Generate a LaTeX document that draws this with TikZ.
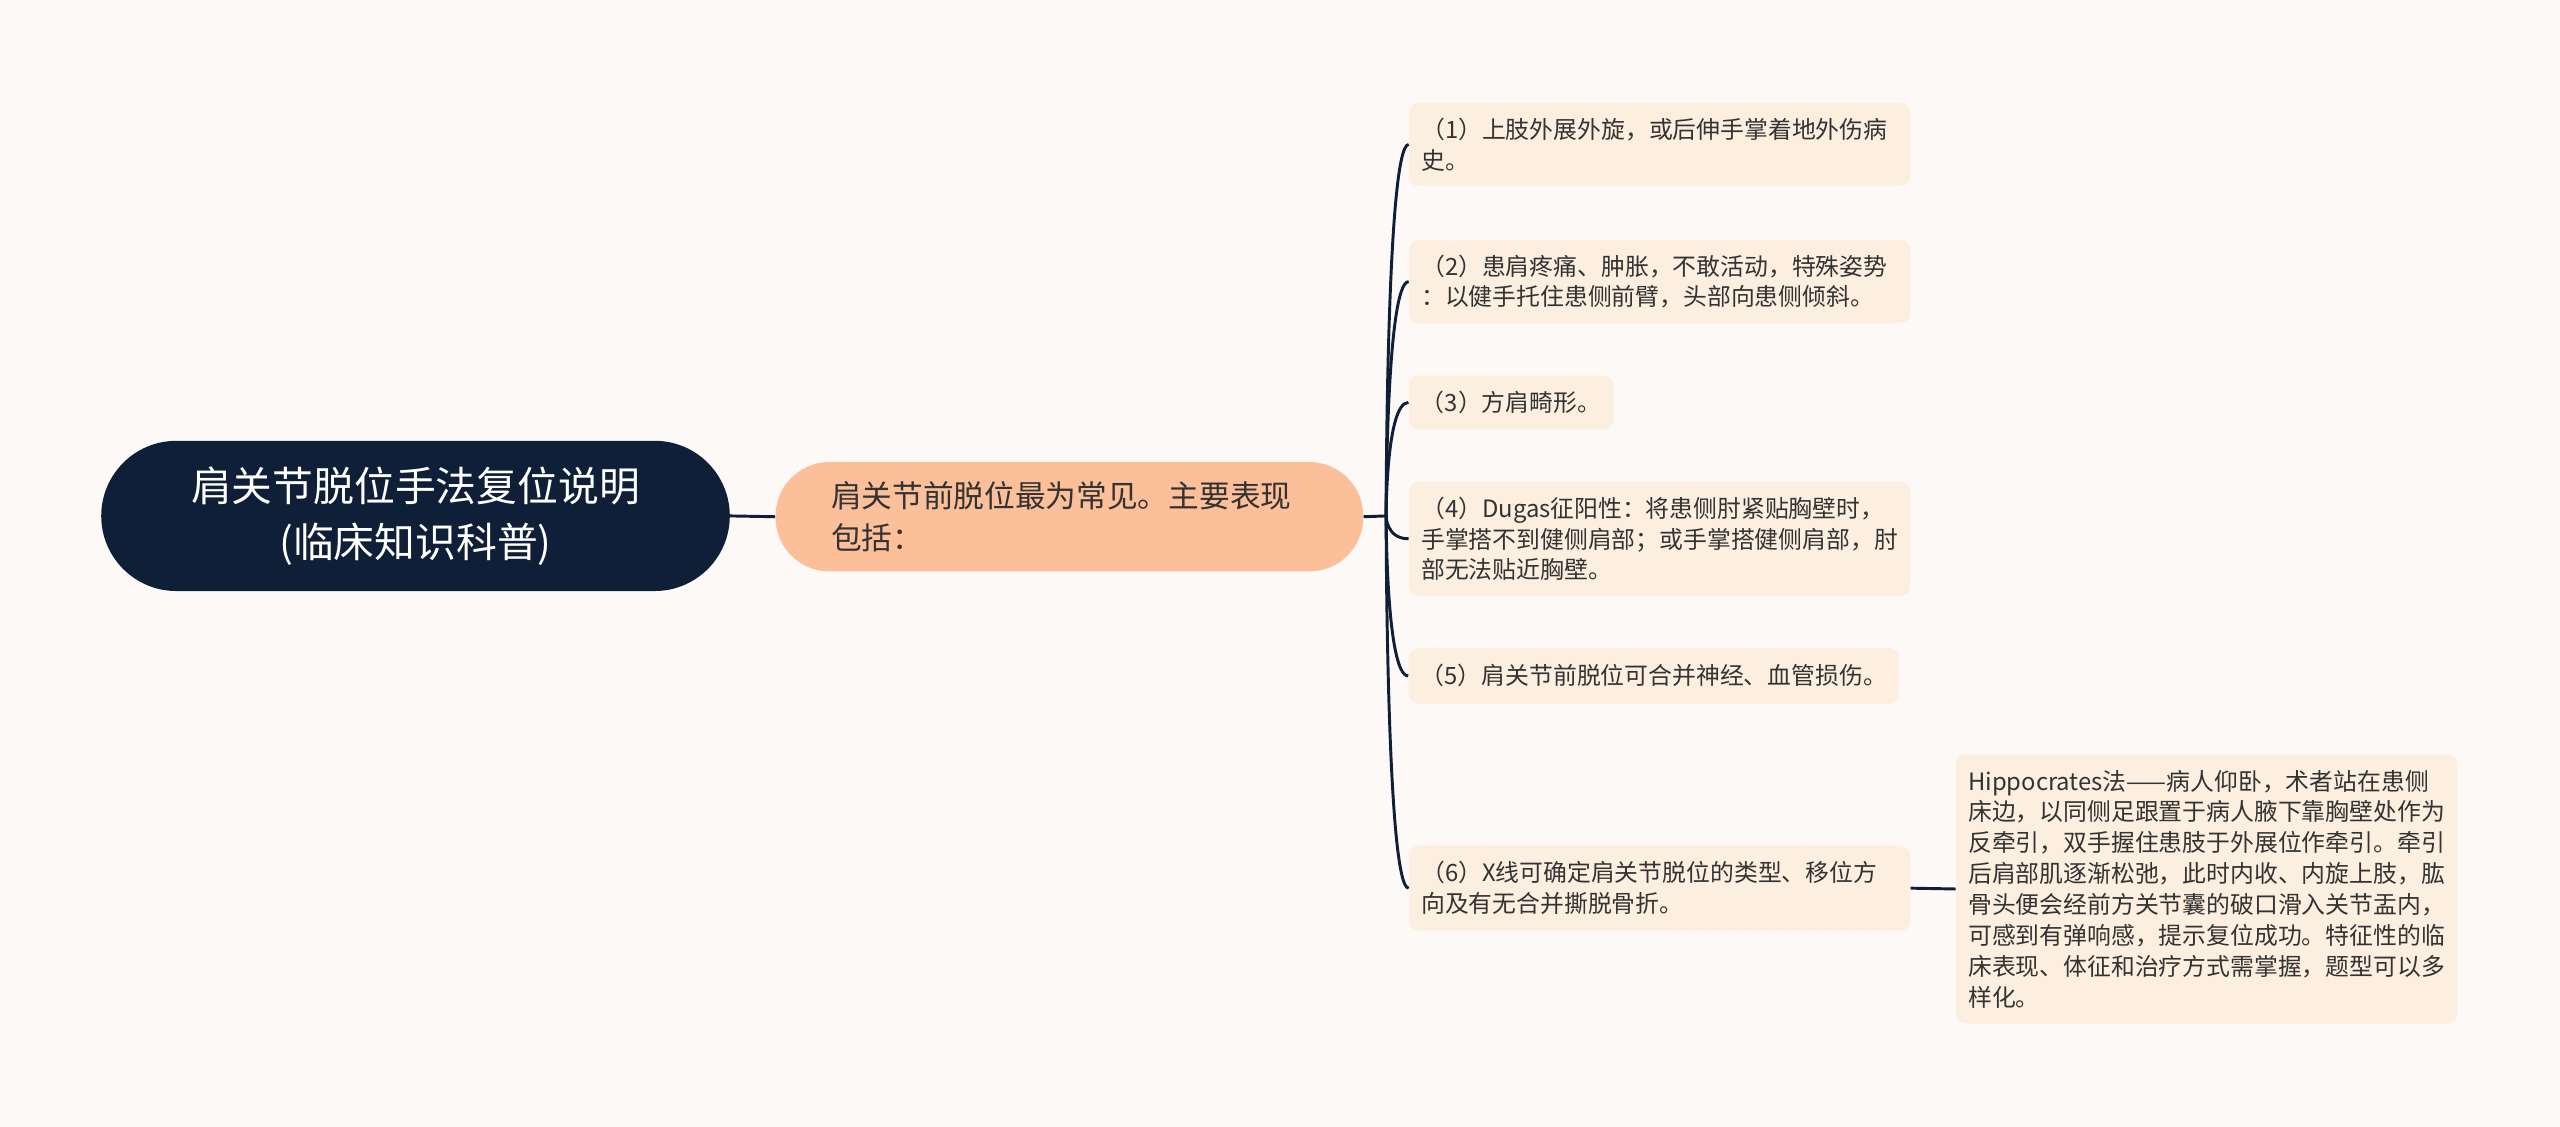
\documentclass[tikz,border=0pt]{standalone}
\usepackage{fontspec}
\setmainfont{Noto Sans CJK SC}
\usepackage{tikz}
\usetikzlibrary{calc}
\definecolor{mapNavy}{RGB}{15,31,56}
\definecolor{mapPeach}{RGB}{251,191,154}
\definecolor{mapLeaf}{RGB}{253,239,224}
\definecolor{mapBg}{RGB}{252,249,247}
\definecolor{mapText}{RGB}{51,51,51}
\tikzset{rootbox/.style={fill=mapNavy, text=white, rounded corners=46pt, minimum width=385pt,
  minimum height=92pt, align=center, font=\fontsize{25pt}{34pt}\selectfont},
  subbox/.style={fill=mapPeach, text=mapText, rounded corners=33pt, text width=292pt, inner xsep=34pt,
  minimum height=67pt, align=left, font=\fontsize{18.8pt}{26pt}\selectfont},
  leafbox/.style={fill=mapLeaf, text=mapText, rounded corners=6pt, inner xsep=7.5pt, inner ysep=6pt,
  align=left, font=\fontsize{14.6pt}{18.9pt}\selectfont},
  branch/.style={draw=mapNavy, line width=1.8pt}}

\begin{document}
\begin{tikzpicture}[x=1pt, y=-1pt]
\fill[mapBg] (0,0) rectangle (1568,690);
% centre and first level
\node[rootbox] (root) at (254.5,316) {肩关节脱位手法复位说明\\(临床知识科普)};
\node[subbox] (sub) at (655,316.5) {肩关节前脱位最为常见。主要表现\\包括：};
\coordinate (J) at (849,316);
% the six points
\node[leafbox, text width=292pt, minimum height=51pt] (l1) at (1016.5,88.5) {（1）上肢外展外旋，或后伸手掌着地外伤病\\史。};
\node[leafbox, text width=292pt, minimum height=51pt] (l2) at (1016.5,172.5) {（2）患肩疼痛、肿胀，不敢活动，特殊姿势\\：以健手托住患侧前臂，头部向患侧倾斜。};
\node[leafbox, minimum height=33pt] (l3) at (925.5,246.5) {（3）方肩畸形。};
\node[leafbox, text width=292pt, minimum height=70pt] (l4) at (1016.5,330) {（4）Dugas征阳性：将患侧肘紧贴胸壁时，\\手掌搭不到健侧肩部；或手掌搭健侧肩部，肘\\部无法贴近胸壁。};
\node[leafbox, minimum height=34pt] (l5) at (1013,414) {（5）肩关节前脱位可合并神经、血管损伤。};
\node[leafbox, text width=292pt, minimum height=52pt] (l6) at (1016.5,544) {（6）X线可确定肩关节脱位的类型、移位方\\向及有无合并撕脱骨折。};
% reduction method
\node[leafbox, text width=292pt, minimum height=165pt] (hip) at (1351.5,544.5) {Hippocrates法——病人仰卧，术者站在患侧\\床边，以同侧足跟置于病人腋下靠胸壁处作为\\反牵引，双手握住患肢于外展位作牵引。牵引\\后肩部肌逐渐松弛，此时内收、内旋上肢，肱\\骨头便会经前方关节囊的破口滑入关节盂内，\\可感到有弹响感，提示复位成功。特征性的临\\床表现、体征和治疗方式需掌握，题型可以多\\样化。};
% connectors
\draw[branch] (root.east) -- (sub.west);
\draw[branch] (sub.east) -- (J);
\foreach \n in {l1,l2,l3,l4,l5,l6}
  \draw[branch] (J) .. controls (J) and (J |- \n.west) .. (\n.west);
\draw[branch] (l6.east) -- (hip.west);
\end{tikzpicture}
\end{document}
